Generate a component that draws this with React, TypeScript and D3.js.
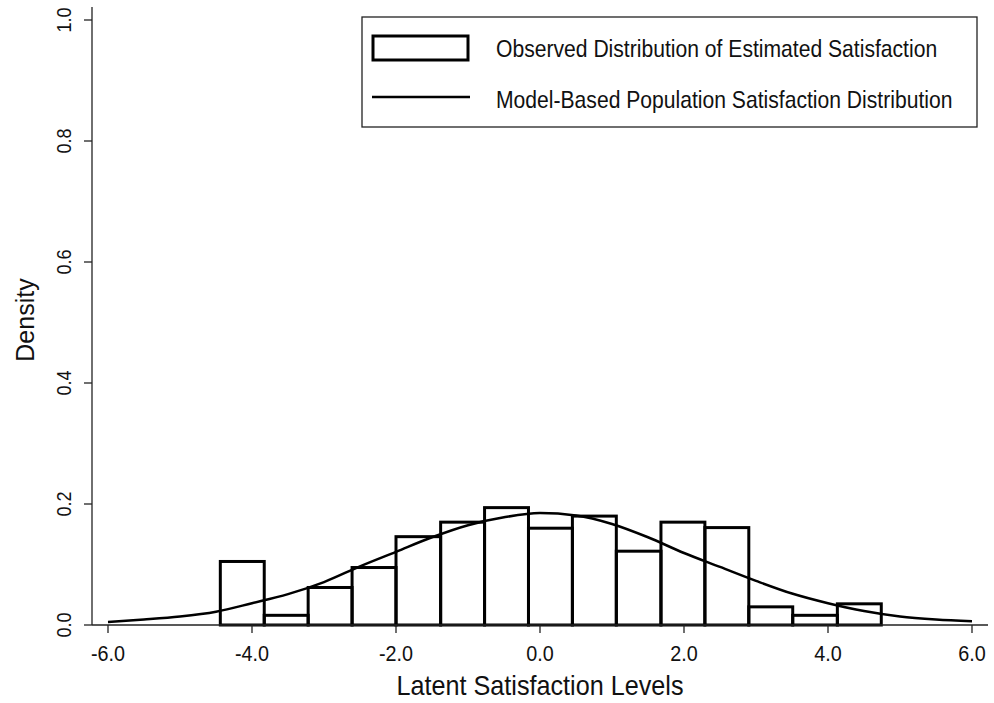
import { useEffect, useRef } from 'react';
import * as d3 from 'd3';

// histogram bin edges (latent satisfaction) and densities
const binEdges = [-4.44, -3.83, -3.22, -2.61, -2.0, -1.38, -0.77, -0.16, 0.45, 1.06, 1.68, 2.29, 2.9, 3.51, 4.13, 4.74];
const binDensity = [0.105, 0.016, 0.062, 0.095, 0.146, 0.17, 0.194, 0.16, 0.18, 0.122, 0.17, 0.161, 0.03, 0.016, 0.035];

// model-based curve
const curveX = [-6, -5.5, -5, -4.5, -4, -3.5, -3, -2.5, -2, -1.5, -1, -0.5, 0, 0.5, 1, 1.5, 2, 2.5, 3, 3.5, 4, 4.5, 5, 5.5, 6];
const curveY = [0.005, 0.009, 0.014, 0.022, 0.036, 0.051, 0.071, 0.097, 0.121, 0.145, 0.165, 0.178, 0.185, 0.181, 0.167, 0.145, 0.119, 0.096, 0.073, 0.052, 0.036, 0.023, 0.014, 0.009, 0.006];

const xTicks = [-6, -4, -2, 0, 2, 4, 6];
const yTicks = [0, 0.2, 0.4, 0.6, 0.8, 1.0];

const legendItems = [
  'Observed Distribution of Estimated Satisfaction',
  'Model-Based Population Satisfaction Distribution',
];

export default function App() {
  const svgRef = useRef<SVGSVGElement>(null);

  useEffect(() => {
    const svg = d3.select(svgRef.current);
    svg.selectAll('*').remove();

    const font = 'Liberation Sans, Arial, sans-serif';
    const ink = '#111';
    const x = d3.scaleLinear().domain([-6, 6]).range([108, 972]);
    const y = d3.scaleLinear().domain([0, 1]).range([625, 20]);
    const x0 = 92;
    const y0 = 625;

    // bars
    const bars = binDensity.map((d, i) => ({ x0: binEdges[i], x1: binEdges[i + 1], d }));
    svg.append('g')
      .selectAll('rect')
      .data(bars)
      .join('rect')
      .attr('x', d => x(d.x0))
      .attr('y', d => y(d.d))
      .attr('width', d => x(d.x1) - x(d.x0))
      .attr('height', d => y(0) - y(d.d))
      .attr('fill', 'none')
      .attr('stroke', '#000')
      .attr('stroke-width', 3);

    // density curve
    const line = d3.line<number>()
      .x((_, i) => x(curveX[i]))
      .y(d => y(d))
      .curve(d3.curveMonotoneX);
    svg.append('path')
      .datum(curveY)
      .attr('fill', 'none')
      .attr('stroke', '#000')
      .attr('stroke-width', 2.5)
      .attr('d', line);

    // axes
    svg.append('line')
      .attr('x1', x0).attr('x2', x0).attr('y1', 7).attr('y2', y0)
      .attr('stroke', '#222').attr('stroke-width', 1.3);
    svg.append('line')
      .attr('x1', x0).attr('x2', 988).attr('y1', y0).attr('y2', y0)
      .attr('stroke', '#222').attr('stroke-width', 1.3);

    const yg = svg.append('g');
    yTicks.forEach(t => {
      yg.append('line')
        .attr('x1', x0 - 8).attr('x2', x0).attr('y1', y(t)).attr('y2', y(t))
        .attr('stroke', '#222').attr('stroke-width', 1.3);
      yg.append('text')
        .attr('transform', `translate(71,${y(t)}) rotate(-90) scale(0.86,1)`)
        .attr('text-anchor', 'middle')
        .style('font-family', font)
        .style('font-size', '21px')
        .attr('fill', ink)
        .text(t.toFixed(1));
    });

    const xg = svg.append('g');
    xTicks.forEach(t => {
      xg.append('line')
        .attr('x1', x(t)).attr('x2', x(t)).attr('y1', y0).attr('y2', y0 + 8)
        .attr('stroke', '#222').attr('stroke-width', 1.3);
      xg.append('text')
        .attr('transform', `translate(${x(t)},661) scale(0.9,1)`)
        .attr('text-anchor', 'middle')
        .style('font-family', font)
        .style('font-size', '22px')
        .attr('fill', ink)
        .text(t.toFixed(1));
    });

    // axis titles
    svg.append('text')
      .attr('transform', 'translate(540,695) scale(0.9,1)')
      .attr('text-anchor', 'middle')
      .style('font-family', font)
      .style('font-size', '28px')
      .attr('fill', ink)
      .text('Latent Satisfaction Levels');

    svg.append('text')
      .attr('transform', 'translate(34,320) rotate(-90)')
      .attr('text-anchor', 'middle')
      .style('font-family', font)
      .style('font-size', '25px')
      .attr('fill', ink)
      .text('Density');

    // legend
    const lg = svg.append('g');
    lg.append('rect')
      .attr('x', 362).attr('y', 17).attr('width', 615).attr('height', 110)
      .attr('fill', '#fff').attr('stroke', '#222').attr('stroke-width', 1.3);
    lg.append('rect')
      .attr('x', 373).attr('y', 36).attr('width', 95).attr('height', 24)
      .attr('fill', 'none').attr('stroke', '#000').attr('stroke-width', 3);
    lg.append('line')
      .attr('x1', 372).attr('x2', 470).attr('y1', 97).attr('y2', 97)
      .attr('stroke', '#000').attr('stroke-width', 2.5);
    legendItems.forEach((t, i) => {
      lg.append('text')
        .attr('transform', `translate(496,${57 + i * 51}) scale(0.88,1)`)
        .style('font-family', font)
        .style('font-size', '24px')
        .attr('fill', ink)
        .text(t);
    });
  }, []);

  return (
    <svg
      ref={svgRef}
      width={994}
      height={703}
      style={{ position: 'absolute', left: 0, top: 0, background: '#fff' }}
    />
  );
}
